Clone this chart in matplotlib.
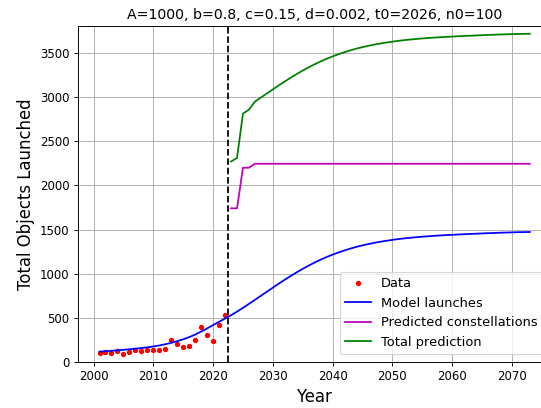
import matplotlib
matplotlib.use("Agg")
import matplotlib.pyplot as plt
import numpy as np

# observed launches per year
data_years = list(range(2001, 2023))
data_counts = [102, 113, 105, 125, 91, 113, 132, 121, 132, 132, 139, 147,
               246, 200, 173, 181, 249, 400, 309, 238, 419, 529]

# fitted launch model, one value per year
model_years = list(range(2001, 2074))
model_counts = [118, 122, 127, 132, 138, 144, 151, 158, 166, 176,
                187, 201, 217, 236, 257, 282, 310, 345, 380, 418,
                455, 492, 530, 570, 613, 658, 704, 750, 796, 842,
                888, 932, 975, 1016, 1055, 1092, 1127, 1159, 1189, 1216,
                1241, 1264, 1285, 1304, 1321, 1336, 1350, 1362, 1373, 1383,
                1392, 1400, 1407, 1413, 1419, 1424, 1429, 1433, 1437, 1440,
                1444, 1447, 1450, 1453, 1456, 1459, 1461, 1464, 1466, 1468,
                1470, 1471, 1472]

# planned constellation objects from 2023 onwards
const_years = list(range(2023, 2074))
const_counts = [1740, 1740, 2200, 2200] + [2245] * 47

cutoff = 2022.5

model = dict(zip(model_years, model_counts))
total_counts = [model[y] + c for y, c in zip(const_years, const_counts)]

fig = plt.figure(figsize=(541 / 85, 408 / 85), dpi=85)
ax = fig.add_axes([78 / 541, 46 / 408, 473.4 / 541, 336 / 408])

ax.plot(data_years, data_counts, "r.", markersize=7, label="Data")
ax.plot(model_years, model_counts, "b-", label="Model launches")
ax.plot(const_years, const_counts, "m-", label="Predicted constellations")
ax.plot(const_years, total_counts, "g-", label="Total prediction")
ax.axvline(cutoff, color="k", linestyle="--")

ax.set_ylim(0, 3805)
ax.set_xlabel("Year", fontsize=14)
ax.set_ylabel("Total Objects Launched", fontsize=14)
ax.set_title("A=1000, b=0.8, c=0.15, d=0.002, t0=2026, n0=100")
ax.grid(True)
ax.legend(loc="lower right", fontsize=11,
          bbox_to_anchor=(1 - 2 / 473, 0.005))

fig.savefig("out.png", dpi=85)
